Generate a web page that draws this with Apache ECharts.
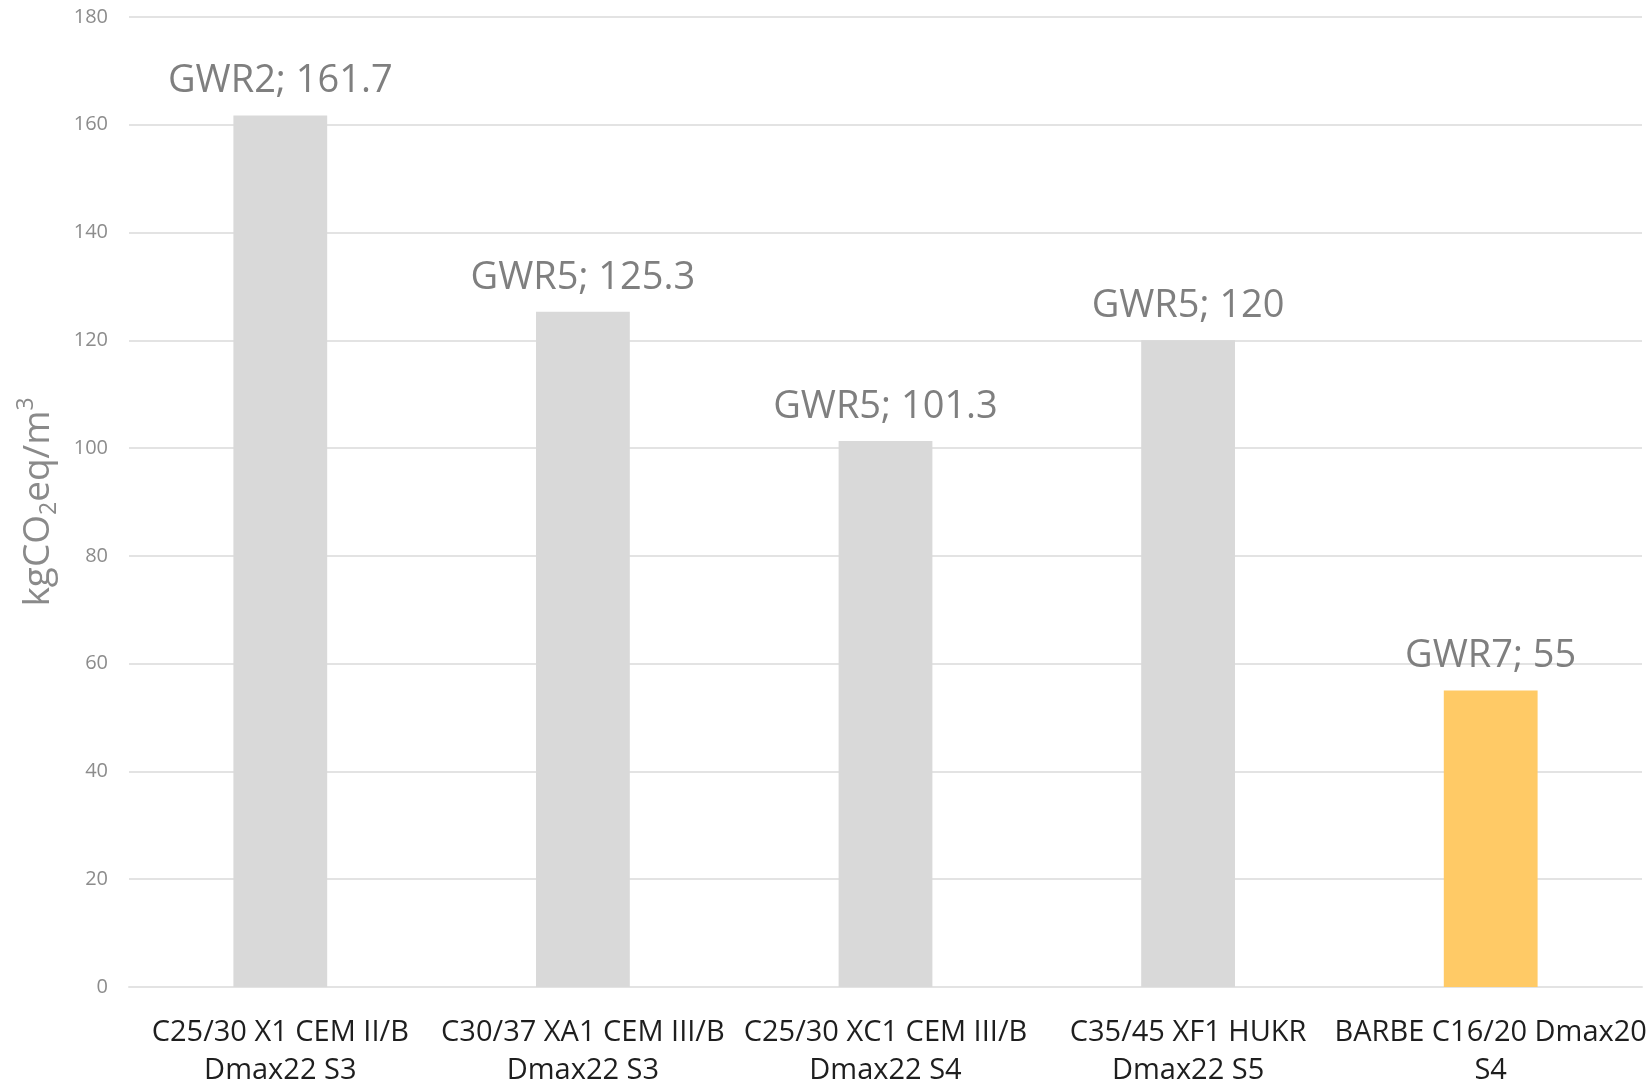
<!DOCTYPE html>
<html>
<head>
<meta charset="utf-8">
<style>
  html, body { margin: 0; padding: 0; background: #ffffff; }
  #chart { width: 1650px; height: 1090px; }
</style>
<script src="https://cdn.jsdelivr.net/npm/echarts@6/dist/echarts.min.js"></script>
</head>
<body>
<div id="chart"></div>
<script>
// Concrete mixes and their global warming potential (kg CO2-eq per m³)
const categories = [
  'C25/30 X1 CEM II/B\nDmax22 S3',
  'C30/37 XA1 CEM III/B\nDmax22 S3',
  'C25/30 XC1 CEM III/B\nDmax22 S4',
  'C35/45 XF1 HUKR\nDmax22 S5',
  'BARBE C16/20 Dmax20\nS4'
];
const gwrClasses = ['GWR2', 'GWR5', 'GWR5', 'GWR5', 'GWR7'];
const gwpValues = [161.7, 125.3, 101.3, 120, 55];
const highlighted = [false, false, false, false, true];

const yMin = 0;
const yMax = 180;
const yStep = 20;

const baseColor = '#d9d9d9';
const accentColor = '#ffca66';

const chart = echarts.init(document.getElementById('chart'), null, { renderer: 'canvas' });

chart.setOption({
  animation: false,
  backgroundColor: '#ffffff',
  grid: { left: 129, right: 8, top: 17, bottom: 99, containLabel: false },
  xAxis: {
    type: 'category',
    data: categories,
    axisTick: { show: false },
    axisLine: { show: true, lineStyle: { color: '#e3e3e3', width: 2 } },
    axisLabel: {
      interval: 0,
      margin: 27,
      color: '#1e1e1e',
      fontFamily: 'Open Sans',
      fontSize: 29,
      lineHeight: 38
    }
  },
  yAxis: {
    type: 'value',
    min: yMin,
    max: yMax,
    interval: yStep,
    name: '{m|kgCO}{s|2}{m|eq/m}{p|3}',
    nameLocation: 'middle',
    nameRotate: 90,
    nameGap: 68,
    nameTextStyle: {
      rich: {
        m: { fontFamily: 'Open Sans', fontSize: 37, color: '#8a8a8a', lineHeight: 46, verticalAlign: 'middle' },
        s: { fontFamily: 'Open Sans', fontSize: 23, color: '#8a8a8a', lineHeight: 23, verticalAlign: 'bottom' },
        p: { fontFamily: 'Open Sans', fontSize: 23, color: '#8a8a8a', lineHeight: 23, verticalAlign: 'top' }
      }
    },
    axisLine: { show: false },
    axisTick: { show: false },
    axisLabel: {
      margin: 21,
      color: '#8c8c8c',
      fontFamily: 'Open Sans',
      fontSize: 20
    },
    splitLine: { lineStyle: { color: '#e3e3e3', width: 2 } }
  },
  series: [{
    type: 'bar',
    barWidth: '31%',
    data: gwpValues.map((v, i) => ({
      value: v,
      itemStyle: { color: highlighted[i] ? accentColor : baseColor }
    })),
    label: {
      show: true,
      position: 'top',
      distance: 15,
      color: '#7f7f7f',
      fontFamily: 'Open Sans',
      fontSize: 38,
      formatter: p => gwrClasses[p.dataIndex] + '; ' + p.value
    }
  }]
});
</script>
</body>
</html>
